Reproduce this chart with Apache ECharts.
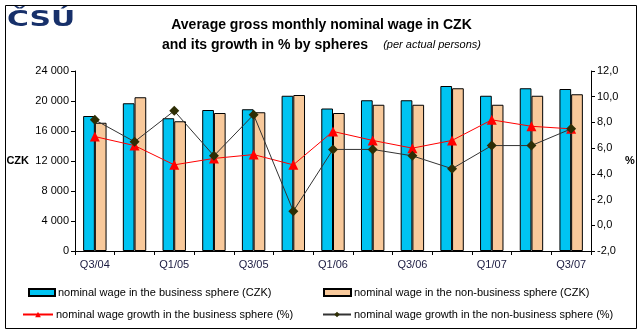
<!DOCTYPE html>
<html>
<head>
<meta charset="utf-8">
<script src="https://cdn.jsdelivr.net/npm/echarts@6/dist/echarts.min.js"></script>
<style>
html,body{margin:0;padding:0;background:#fff;}
#chart{width:643px;height:333px;}
</style>
</head>
<body>
<div id="chart"></div>
<script>
// data
var quarters = ['Q3/04','Q4/04','Q1/05','Q2/05','Q3/05','Q4/05','Q1/06','Q2/06','Q3/06','Q4/06','Q1/07','Q2/07','Q3/07'];
var wageBusiness = [18000,19700,17700,18800,18900,20700,19000,20100,20100,22000,20700,21700,21600];
var wageNonBusiness = [17100,20500,17300,18400,18500,20800,18400,19500,19500,21700,19500,20700,20900];
var growthBusiness = [6.9,6.2,4.7,5.2,5.5,4.7,7.3,6.6,6.0,6.6,8.2,7.7,7.5];
var growthNonBusiness = [8.2,6.5,8.9,5.4,8.6,1.1,5.9,5.9,5.4,4.4,6.2,6.2,7.5];

var names = [
    'nominal wage in the business sphere (CZK)',
    'nominal wage in the non-business sphere (CZK)',
    'nominal wage growth in the business sphere (%)',
    'nominal wage growth in the non-business sphere (%)'
];

var font = 'Liberation Sans, Arial, sans-serif';
var chart = echarts.init(document.getElementById('chart'));

function legendAt(name, left, top, w, icon){
    var l = {
        data: [name], left: left, top: top, orient: 'horizontal',
        itemWidth: w, itemHeight: 7, itemGap: 0, padding: 0, selectedMode: false,
        textStyle: {fontFamily: font, fontSize: 11, color: '#000', padding: [0,0,0,-2]}
    };
    if (icon) l.icon = icon;
    return l;
}

var option = {
    animation: false,
    backgroundColor: '#fff',
    textStyle: {fontFamily: font},
    title: {
        left: 'center', top: 10,
        text: '{b|Average gross monthly nominal wage in CZK}\n{b|and its growth in % by spheres}   {i|(per actual persons)}',
        textStyle: {
            rich: {
                b: {fontFamily: font, fontSize: 14, fontWeight: 'bold', color: '#000', lineHeight: 20},
                i: {fontFamily: font, fontSize: 11, fontStyle: 'italic', fontWeight: 'normal', color: '#000', lineHeight: 20}
            }
        }
    },
    graphic: [
        {type: 'rect', shape: {x: 5.5, y: 5.5, width: 631, height: 323}, style: {fill: 'none', stroke: '#000', lineWidth: 1}, silent: true},
        {type: 'text', x: 7, y: 10, scaleX: 1.42, silent: true,
            style: {text: 'ČSÚ', x: 0, y: 0, verticalAlign: 'top', align: 'left', font: 'bold 21px "DejaVu Sans"', fill: '#17306a'}}
    ],
    legend: [
        legendAt(names[0], 28, 287, 26, 'rect'),
        legendAt(names[1], 323, 287, 27, 'rect'),
        legendAt(names[2], 22, 309, 30),
        legendAt(names[3], 322, 309, 28)
    ],
    grid: {left: 75, right: 52, top: 71, bottom: 82},
    xAxis: {
        type: 'category', data: quarters, boundaryGap: true,
        axisLine: {lineStyle: {color: '#000', width: 1}},
        axisTick: {show: true, interval: 0, length: 4, lineStyle: {color: '#000'}},
        axisLabel: {interval: 1, color: '#1a1a40', fontSize: 11, fontFamily: font, margin: 8}
    },
    yAxis: [
        {
            type: 'value', min: 0, max: 24000, interval: 4000,
            name: 'CZK', nameLocation: 'middle', nameRotate: 0, nameGap: 46,
            nameTextStyle: {fontFamily: font, fontSize: 11, fontWeight: 'bold', color: '#000'},
            axisLine: {show: true, lineStyle: {color: '#000'}},
            axisTick: {show: true, length: 4, lineStyle: {color: '#000'}},
            splitLine: {show: false},
            axisLabel: {color: '#000', fontSize: 11, fontFamily: font, margin: 6,
                formatter: function(v){ return v >= 1000 ? Math.floor(v/1000) + ' ' + ('00' + (v % 1000)).slice(-3) : String(v); }}
        },
        {
            type: 'value', min: -2, max: 12, interval: 2, position: 'right',
            name: '%', nameLocation: 'middle', nameRotate: 0, nameGap: 34,
            nameTextStyle: {fontFamily: font, fontSize: 11, fontWeight: 'bold', color: '#000'},
            axisLine: {show: true, lineStyle: {color: '#000'}},
            axisTick: {show: true, length: 4, lineStyle: {color: '#000'}},
            splitLine: {show: false},
            axisLabel: {color: '#000', fontSize: 11, fontFamily: font, margin: 6,
                formatter: function(v){ return v.toFixed(1).replace('.', ','); }}
        }
    ],
    series: [
        {
            name: names[0], type: 'bar', data: wageBusiness, yAxisIndex: 0,
            barGap: '0%', barCategoryGap: '41%',
            itemStyle: {color: '#00c4f2', borderColor: '#000', borderWidth: 1}
        },
        {
            name: names[1], type: 'bar', data: wageNonBusiness, yAxisIndex: 0,
            barGap: '0%', barCategoryGap: '41%',
            itemStyle: {color: '#f8c99b', borderColor: '#000', borderWidth: 1}
        },
        {
            name: names[2], type: 'line', data: growthBusiness, yAxisIndex: 1,
            symbol: 'triangle', symbolSize: 10,
            lineStyle: {color: '#ff0000', width: 1},
            itemStyle: {color: '#ff0000'}
        },
        {
            name: names[3], type: 'line', data: growthNonBusiness, yAxisIndex: 1,
            symbol: 'diamond', symbolSize: 10,
            lineStyle: {color: '#333333', width: 1},
            itemStyle: {color: '#2e2e05'}
        }
    ]
};
chart.setOption(option);
</script>
</body>
</html>
